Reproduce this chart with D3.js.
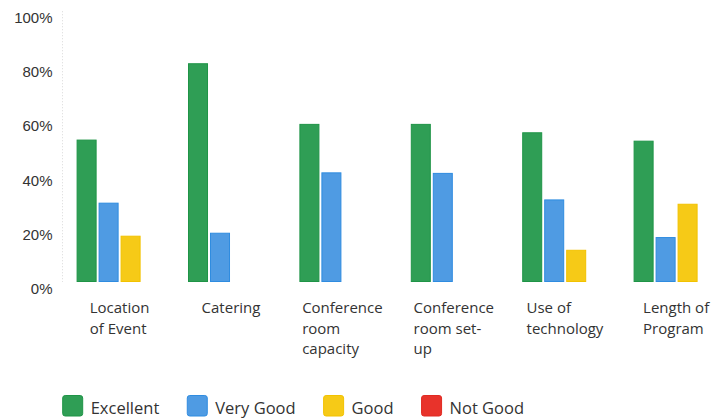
<!DOCTYPE html>
<html>
<head>
<meta charset="utf-8">
<script src="https://cdn.jsdelivr.net/npm/d3@7"></script>
<style>
  html, body { margin: 0; padding: 0; background: #fff; }
  svg { display: block; }
</style>
</head>
<body>
<svg id="chart" width="713" height="419"></svg>
<script>
// ---- data ----
const categories = [
  ["Location", "of Event"],
  ["Catering"],
  ["Conference", "room", "capacity"],
  ["Conference", "room set-", "up"],
  ["Use of", "technology"],
  ["Length of", "Program"]
];
const seriesNames = ["Excellent", "Very Good", "Good", "Not Good"];
const excellent = [52.6, 80.8, 58.4, 58.4, 55.3, 52.2];
const veryGood  = [29.3, 18.2, 40.5, 40.3, 30.5, 16.6];
const good      = [17.1, 0, 0, 0, 11.9, 28.9];
const notGood   = [0, 0, 0, 0, 0, 0];
const yTicks = [0, 20, 40, 60, 80, 100];
const colors = ["#2f9e55", "#4f9be3", "#f6ca17", "#e8332b"];
const strokes = ["#1f9447", "#2f8ce0", "#f2c200", "#e02a22"];

const seriesValues = [excellent, veryGood, good, notGood];
const catKeys = categories.map(c => c.join(" "));
const rows = catKeys.map((k, i) => ({
  key: k,
  lines: categories[i],
  values: seriesNames.map((s, j) => ({ series: s, idx: j, value: seriesValues[j][i] }))
}));

const svg = d3.select("#chart");

const y = d3.scaleLinear().domain([0, 100]).range([282, 11.25]);
const x0 = d3.scaleBand().domain(catKeys).range([76.6, 76.6 + 111.4 * 6]).paddingInner(0).paddingOuter(0);
const x1 = d3.scaleBand().domain(seriesNames).range([0, 86]).paddingInner(0.09).paddingOuter(0);
const groupW = 86;

// faint dotted axis line
svg.append("line")
  .attr("x1", 62.5).attr("x2", 62.5)
  .attr("y1", y(100)).attr("y2", y(0))
  .attr("stroke", "#d8d8d8").attr("stroke-width", 1)
  .attr("stroke-dasharray", "1,2");

// y axis
const yAxis = svg.append("g")
  .attr("transform", "translate(62.5,0)")
  .call(d3.axisLeft(y).tickValues(yTicks).tickSize(0).tickPadding(10).tickFormat(d => d + "%"));
yAxis.select(".domain").remove();
yAxis.selectAll("text")
  .attr("font-family", "'Liberation Sans', Arial, sans-serif")
  .attr("font-size", 15)
  .attr("fill", "#333")
  .attr("dy", "0.76em")
  .attr("text-anchor", "end");

// bars
const groups = svg.append("g").selectAll("g")
  .data(rows).join("g")
  .attr("transform", d => `translate(${x0(d.key)},0)`);

groups.selectAll("rect")
  .data(d => d.values.filter(v => v.value > 0))
  .join("rect")
  .attr("x", v => x1(v.series) + 0.5)
  .attr("y", v => y(v.value) + 0.5)
  .attr("width", x1.bandwidth() - 1)
  .attr("height", v => y(0) - y(v.value) - 1)
  .attr("fill", v => colors[v.idx])
  .attr("stroke", v => strokes[v.idx])
  .attr("stroke-width", 1);

// category labels (left-aligned lines, block centered under group)
const labelG = svg.append("g");
rows.forEach(r => {
  const t = labelG.append("text")
    .attr("font-family", "'Open Sans', sans-serif")
    .attr("font-size", 15)
    .attr("fill", "#333");
  r.lines.forEach((ln, i) => {
    t.append("tspan").attr("x", 0).attr("y", 313 + i * 20.5).text(ln);
  });
  const w = t.node().getBBox().width;
  const cx = x0(r.key) + groupW / 2;
  t.attr("transform", `translate(${cx - w / 2},0)`);
});

// legend
const legend = svg.append("g");
let lx = 62.7;
seriesNames.forEach((s, i) => {
  legend.append("rect")
    .attr("x", lx).attr("y", 395.5)
    .attr("width", 20).attr("height", 20.5)
    .attr("rx", 2.5)
    .attr("fill", colors[i])
    .attr("stroke", strokes[i]).attr("stroke-width", 1);
  const t = legend.append("text")
    .attr("x", lx + 28).attr("y", 414)
    .attr("font-family", "'Open Sans', sans-serif")
    .attr("font-size", 16.5)
    .attr("fill", "#333")
    .text(s);
  lx = lx + 28 + t.node().getComputedTextLength() + 28;
});
</script>
</body>
</html>
